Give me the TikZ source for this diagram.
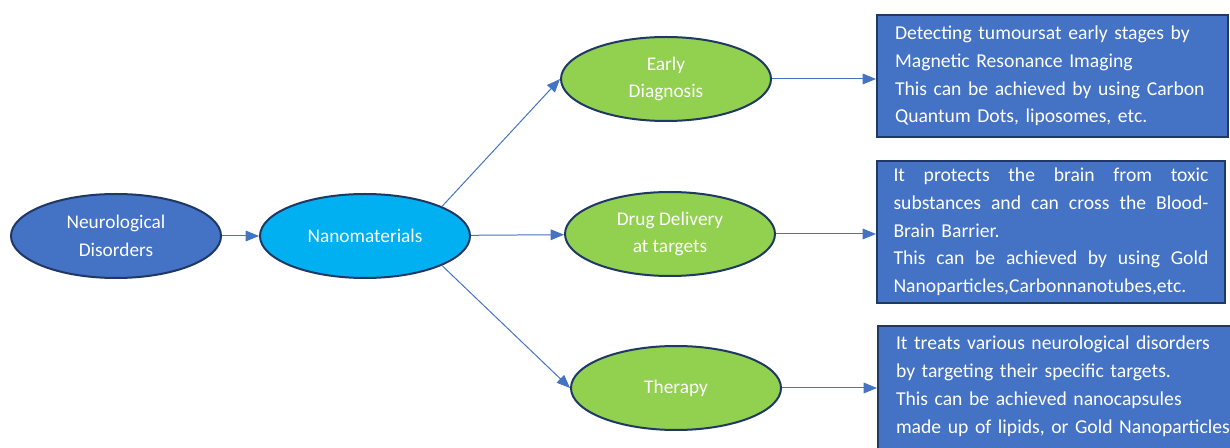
\documentclass[tikz,border=0pt]{standalone}
\usepackage{fontspec}
\setmainfont{Carlito}
\usetikzlibrary{shapes.geometric,arrows.meta}
\definecolor{boxblue}{HTML}{4472C4}
\definecolor{nanocyan}{HTML}{00B0F0}
\definecolor{leafgreen}{HTML}{92D050}
\definecolor{edgenavy}{HTML}{1F3864}
\newcommand{\spreadline}[1]{\makebox[236.25pt][s]{\spaceskip=.25em plus 1fil\relax #1}}
\begin{document}
\begin{tikzpicture}[x=0.75pt,y=-0.75pt,
  oval/.style={ellipse,draw=edgenavy,line width=1.5pt,text=white,inner sep=0pt,
    minimum width=157.5pt,minimum height=63pt,align=center,
    font=\fontsize{14.5}{20.5}\selectfont},
  infobox/.style={rectangle,draw=edgenavy,line width=1.5pt,fill=boxblue,text=white,
    align=left,font=\fontsize{14.75}{20.75}\selectfont},
  link/.style={draw=boxblue,line width=0.75pt,-{Triangle[length=10pt,width=8pt]}}]
\useasboundingbox (0,0) rectangle (1230,448);
\clip (0,0) rectangle (1230,448);
% ellipses
\node[oval,fill=boxblue] (neuro) at (116,236) {Neurological\\Disorders};
\node[oval,fill=nanocyan] (nano) at (365,236) {Nanomaterials};
\node[oval,fill=leafgreen] (early) at (666,79) {Early\\Diagnosis};
\node[oval,fill=leafgreen] (drug) at (670,234) {Drug Delivery\\at targets};
\node[oval,fill=leafgreen] (therapy) at (676,388) {Therapy};
% text boxes
\node[infobox,text width=236.25pt,inner xsep=13.5pt,minimum height=91.5pt] (box1) at (1052.5,76)
  {Detecting tumoursat early stages by\\Magnetic Resonance Imaging\\This can be achieved by using Carbon\\Quantum Dots, liposomes, etc.};
\node[infobox,text width=236.25pt,inner xsep=12.4pt,minimum height=106.5pt] (box2) at (1051,232)
  {\spreadline{It protects the brain from toxic}\\\spreadline{substances and can cross the Blood-}\\Brain Barrier.\\\spreadline{This can be achieved by using Gold}\\Nanoparticles,Carbonnanotubes,etc.};
\node[infobox,anchor=north west,text width=270pt,inner xsep=13.5pt,inner ysep=7.5pt,
  font=\fontsize{14.75}{21}\selectfont] (box3) at (877,325)
  {It treats various neurological disorders\\by targeting their specific targets.\\This can be achieved nanocapsules\\made up of lipids, or Gold Nanoparticles\\\strut};
% connectors
\draw[link] (neuro) -- (nano);
\draw[link] (nano.21) -- (early.west);
\draw[link] (nano) -- (drug);
\draw[link] (nano.-21) -- (therapy.west);
\draw[link] (early) -- (early -| box1.west);
\draw[link] (drug) -- (drug -| box2.west);
\draw[link] (therapy) -- (therapy -| box3.west);
\end{tikzpicture}
\end{document}
